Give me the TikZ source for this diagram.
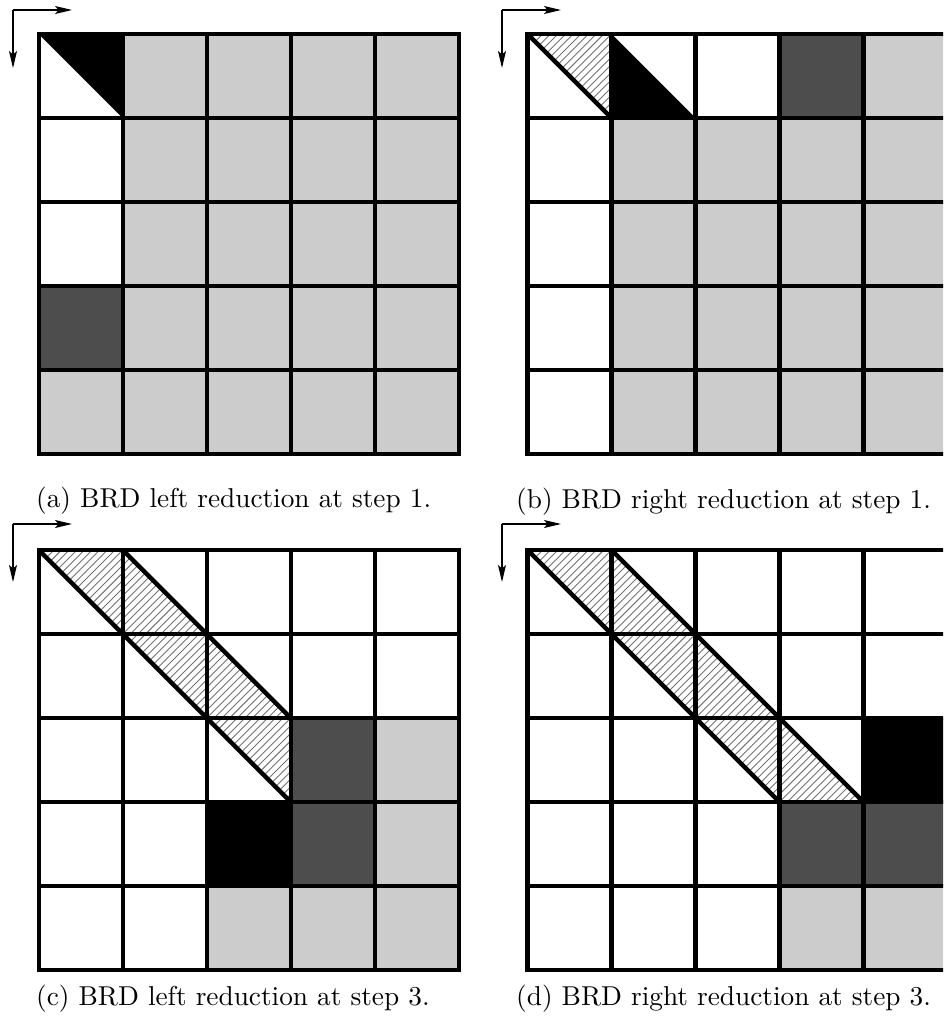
\documentclass[tikz,border=0pt]{standalone}
\usepackage{fontspec}
\newfontfamily\capfont{lmroman10-regular.otf}
\usetikzlibrary{arrows.meta}
\definecolor{lightg}{HTML}{CCCCCC}
\definecolor{darkg}{HTML}{4D4D4D}
\tikzset{
  gridline/.style={line width=4.4pt, black},
  diagline/.style={line width=4.4pt, black},
  hatchline/.style={line width=0.9pt, black!55},
  axisarrow/.style={line width=1.1pt, -{Stealth[length=17pt,width=8pt,inset=3.5pt]}},
  captext/.style={anchor=base west, inner sep=0pt, font=\capfont\fontsize{27.3}{33}\selectfont},
  cellunits/.style={x=84pt, y=-84pt},
}
\newcommand{\hatchpoly}[1]{%
  \begin{scope}
    \clip #1 -- cycle;
    \foreach \k in {1,...,88}{\draw[hatchline] ({\k/11},0) -- (0,{\k/11});}
  \end{scope}}
\newcommand{\gridlines}{%
  \foreach \i in {1,2,3,4}{%
    \draw[gridline] (\i,0) -- (\i,5);
    \draw[gridline] (0,\i) -- (5,\i);}
  \draw[gridline, line join=miter] (0,0) rectangle (5,5);}
\begin{document}
\begin{tikzpicture}[x=1pt, y=-1pt]
\useasboundingbox (0,0) rectangle (943,1022);
\clip (0,0) rectangle (943,1022);

% ---------- (a) ----------
\coordinate (a0) at (13,10);
\coordinate (ah) at (72,10);
\coordinate (av) at (13,68);
\draw[axisarrow] (a0) -- (ah);
\draw[axisarrow] (a0) -- (av);
\begin{scope}[shift={(38.7pt,-34pt)}, cellunits]
  \fill[lightg] (1,0) rectangle (5,5);
  \fill[lightg] (0,4) rectangle (1,5);
  \fill[darkg] (0,3) rectangle (1,4);
  \fill[black] (0,0) -- (1,0) -- (1,1) -- cycle;
  \gridlines
\end{scope}
\node[captext] (capa) at (36,507) {(a) BRD left reduction at step 1.};

% ---------- (b) ----------
\coordinate (b0) at (502,10);
\coordinate (bh) at (561,10);
\coordinate (bv) at (502,68);
\draw[axisarrow] (b0) -- (bh);
\draw[axisarrow] (b0) -- (bv);
\begin{scope}[shift={(527.5pt,-34pt)}, cellunits]
  \fill[lightg] (1,1) rectangle (5,5);
  \fill[lightg] (4,0) rectangle (5,1);
  \fill[darkg] (3,0) rectangle (4,1);
  \fill[black] (1,0) -- (1,1) -- (2,1) -- cycle;
  \hatchpoly{(0,0) -- (1,0) -- (1,1)}
  \gridlines
  \draw[diagline] (0,0) -- (1,1);
\end{scope}
\node[captext] (capb) at (516,508) {(b) BRD right reduction at step 1.};

% ---------- (c) ----------
\coordinate (c0) at (13,524);
\coordinate (ch) at (72,524);
\coordinate (cv) at (13,582);
\draw[axisarrow] (c0) -- (ch);
\draw[axisarrow] (c0) -- (cv);
\begin{scope}[shift={(38.7pt,-550pt)}, cellunits]
  \fill[darkg] (3,2) rectangle (4,4);
  \fill[lightg] (4,2) rectangle (5,4);
  \fill[black] (2,3) rectangle (3,4);
  \fill[lightg] (2,4) rectangle (5,5);
  \hatchpoly{(0,0) -- (1,0) -- (3,2) -- (3,3)}
  \gridlines
  \draw[diagline] (0,0) -- (3,3);
  \draw[diagline] (1,0) -- (3,2);
\end{scope}
\node[captext] (capc) at (36,1005) {(c) BRD left reduction at step 3.};

% ---------- (d) ----------
\coordinate (d0) at (502,524);
\coordinate (dh) at (561,524);
\coordinate (dv) at (502,582);
\draw[axisarrow] (d0) -- (dh);
\draw[axisarrow] (d0) -- (dv);
\begin{scope}[shift={(527.5pt,-550pt)}, cellunits]
  \fill[black] (4,2) rectangle (5,3);
  \fill[darkg] (3,3) rectangle (5,4);
  \fill[lightg] (3,4) rectangle (5,5);
  \hatchpoly{(0,0) -- (1,0) -- (4,3) -- (3,3)}
  \gridlines
  \draw[diagline] (0,0) -- (3,3);
  \draw[diagline] (1,0) -- (4,3);
\end{scope}
\node[captext] (capd) at (516,1005) {(d) BRD right reduction at step 3.};
\end{tikzpicture}
\end{document}
